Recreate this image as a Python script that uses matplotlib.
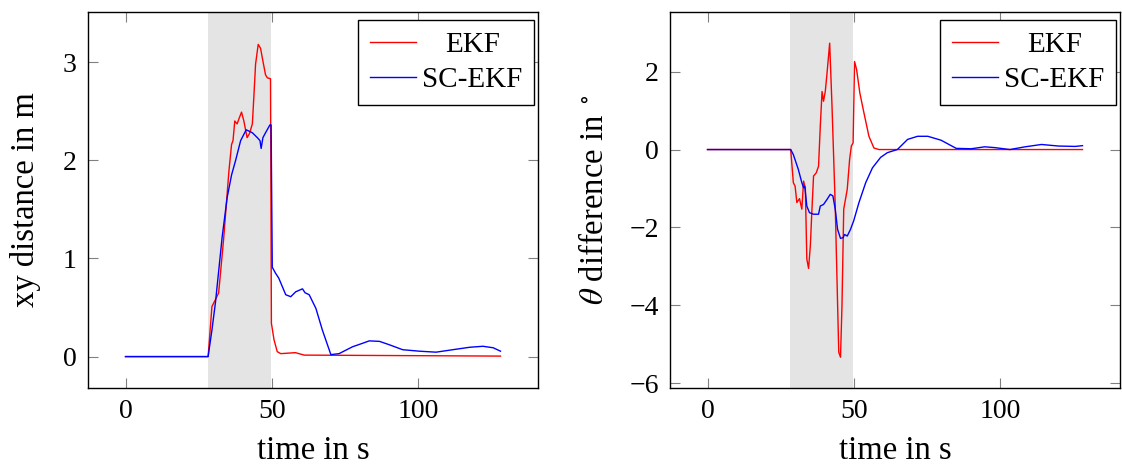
"""
EKF vs SC-EKF error over time (xy distance and heading difference).
"""
import matplotlib.pyplot as plt

plt.rcParams['font.family'] = ['Liberation Serif', 'DejaVu Serif']
plt.rcParams['mathtext.fontset'] = 'stix'

# shaded interval [s]
shade = [28.1, 49.7]

# left plot: xy distance in m
t_xy_ekf = [0, 28.2, 29.5, 30.7, 31.8, 33.5, 35.3, 36.2, 36.7, 37.3, 38.1, 38.7, 39.6, 40.4,
            41.5, 42.3, 43.3, 43.8, 44.4, 45.3, 46.1, 46.9, 47.8, 48.4, 49.5, 49.8, 50.7,
            51.8, 53, 58, 61, 128]
xy_ekf = [0, 0, 0.51, 0.58, 0.65, 1.2, 1.89, 2.16, 2.2, 2.40, 2.37, 2.42, 2.49, 2.40,
          2.23, 2.27, 2.37, 2.64, 2.98, 3.18, 3.14, 3.01, 2.87, 2.84, 2.83, 0.34, 0.17,
          0.05, 0.03, 0.04, 0.015, 0.005]

t_xy_sc = [0, 28.2, 29.5, 30.7, 33, 34.7, 36.2, 37.6, 39.3, 41.2, 43.3, 45, 45.9, 46.3,
           46.9, 47.8, 49.3, 49.7, 50.1, 51.2, 52.3, 54.7, 56.4, 58.1, 60.4, 61.3, 62.7,
           65, 67.2, 70.1, 72.9, 77.5, 80.4, 83.2, 86.7, 90.1, 94.6, 100.3, 106, 111.7,
           117.5, 122, 125.5, 128]
xy_sc = [0, 0, 0.27, 0.55, 1.22, 1.62, 1.85, 2.0, 2.2, 2.31, 2.28, 2.23, 2.20, 2.12,
         2.23, 2.28, 2.36, 2.36, 0.91, 0.85, 0.80, 0.63, 0.61, 0.66, 0.69, 0.65, 0.63,
         0.49, 0.27, 0.02, 0.03, 0.10, 0.13, 0.16, 0.155, 0.12, 0.07, 0.055, 0.045, 0.07,
         0.095, 0.105, 0.09, 0.055]

# right plot: theta difference in degree
t_th_ekf = [0, 28.4, 29.3, 29.9, 30.5, 31.4, 32.2, 32.8, 33.4, 33.9, 34.5, 35.1, 35.6,
            36.2, 37.1, 37.9, 38.5, 39.1, 39.6, 40.2, 40.8, 41.7, 42.5, 43.6, 44.8, 45.4,
            45.9, 46.5, 47.7, 48.5, 49.1, 49.7, 50.2, 50.9, 52, 53.4, 55.1, 56.8, 58.5, 128]
th_ekf = [0, 0, -0.85, -0.94, -1.36, -1.26, -1.53, -0.81, -1.0, -2.81, -3.05, -2.47, -1.62,
          -0.68, -0.60, -0.43, 0.60, 1.49, 1.24, 1.49, 1.96, 2.73, 1.11, -1.45, -5.2, -5.33,
          -4.01, -1.53, -1.02, -0.26, 0.09, 0.17, 2.26, 2.05, 1.45, 0.94, 0.34, 0.04, 0.0, 0.0]

t_th_sc = [0, 28.4, 29.3, 31, 32.2, 32.8, 33.2, 33.9, 34.8, 36.2, 37.9, 38.5, 39.6, 40.8,
           41.9, 42.8, 43.6, 44.4, 45.4, 46.3, 46.8, 47.7, 48.8, 49.9, 51.7, 54, 56.3, 59.1,
           61.4, 64.8, 68.3, 71.7, 75.2, 79.7, 84.9, 90, 94.6, 98, 103.2, 108.4, 114, 119.8,
           125.5, 128]
th_sc = [0, 0, -0.13, -0.51, -0.85, -0.98, -0.94, -1.45, -1.62, -1.66, -1.66, -1.45, -1.41,
         -1.28, -1.15, -1.19, -1.53, -2.05, -2.28, -2.26, -2.18, -2.22, -2.05, -1.83, -1.36,
         -0.85, -0.47, -0.20, -0.08, 0, 0.26, 0.34, 0.34, 0.24, 0.03, 0.02, 0.07, 0.05, 0,
         0.07, 0.13, 0.09, 0.08, 0.1]

FS_TICK = 20   # tick labels
FS_LAB = 23.5  # axis labels
FS_LEG = 21    # legend


def style_axes(ax):
    for s in ax.spines.values():
        s.set_color('black')
        s.set_linewidth(1.0)
    ax.tick_params(direction='in', length=7, width=0.8, color='0.5', labelsize=FS_TICK,
                   top=True, right=True, pad=8)
    ax.set_xticks([0, 50, 100])
    ax.set_xlim(-12.8, 140.8)


def add_legend(ax):
    leg = ax.legend(loc='upper right', bbox_to_anchor=(0.991, 0.979), borderaxespad=0,
                    fontsize=FS_LEG, frameon=True, fancybox=False, framealpha=1,
                    edgecolor='black', handlelength=1.6, handletextpad=0.2,
                    labelspacing=0.3, borderpad=0.4)
    leg.get_frame().set_linewidth(1.0)
    return leg


def center_legend_text(fig, legs):
    # pgfplots centres legend entries, matplotlib left-aligns them
    fig.canvas.draw()
    for leg in legs:
        ws = [t.get_window_extent().width for t in leg.get_texts()]
        for t, w in zip(leg.get_texts(), ws):
            t.set_position(((max(ws) - w) / 2, 0))


def main():
    fig = plt.figure(figsize=(11.22, 4.65), dpi=100)
    ax1 = fig.add_axes([88 / 1122, 1 - 388 / 465, 450 / 1122, 376 / 465])
    ax2 = fig.add_axes([670 / 1122, 1 - 388 / 465, 450 / 1122, 376 / 465])

    ax1.axvspan(shade[0], shade[1], color='#e4e4e4', lw=0, zorder=0)
    ax1.plot(t_xy_ekf, xy_ekf, '-', color='red', lw=1.0, label='EKF')
    ax1.plot(t_xy_sc, xy_sc, '-', color='blue', lw=1.0, label='SC-EKF')
    style_axes(ax1)
    ax1.set_ylim(-0.32, 3.51)
    ax1.set_yticks([0, 1, 2, 3])
    ax1.set_xlabel('time in s', fontsize=FS_LAB, labelpad=8)
    ax1.set_ylabel('xy distance in m', fontsize=FS_LAB, labelpad=16)
    leg1 = add_legend(ax1)

    ax2.axvspan(shade[0], shade[1], color='#e4e4e4', lw=0, zorder=0)
    ax2.plot(t_th_ekf, th_ekf, '-', color='red', lw=1.0, label='EKF')
    ax2.plot(t_th_sc, th_sc, '-', color='blue', lw=1.0, label='SC-EKF')
    style_axes(ax2)
    ax2.set_ylim(-6.12, 3.53)
    ax2.set_yticks([-6, -4, -2, 0, 2])
    ax2.set_xlabel('time in s', fontsize=FS_LAB, labelpad=8)
    ax2.set_ylabel(r'$\theta$ difference in $^\circ$', fontsize=FS_LAB, labelpad=14)
    leg2 = add_legend(ax2)

    center_legend_text(fig, [leg1, leg2])
    fig.savefig('out.png', dpi=100)


if __name__ == '__main__':
    main()
